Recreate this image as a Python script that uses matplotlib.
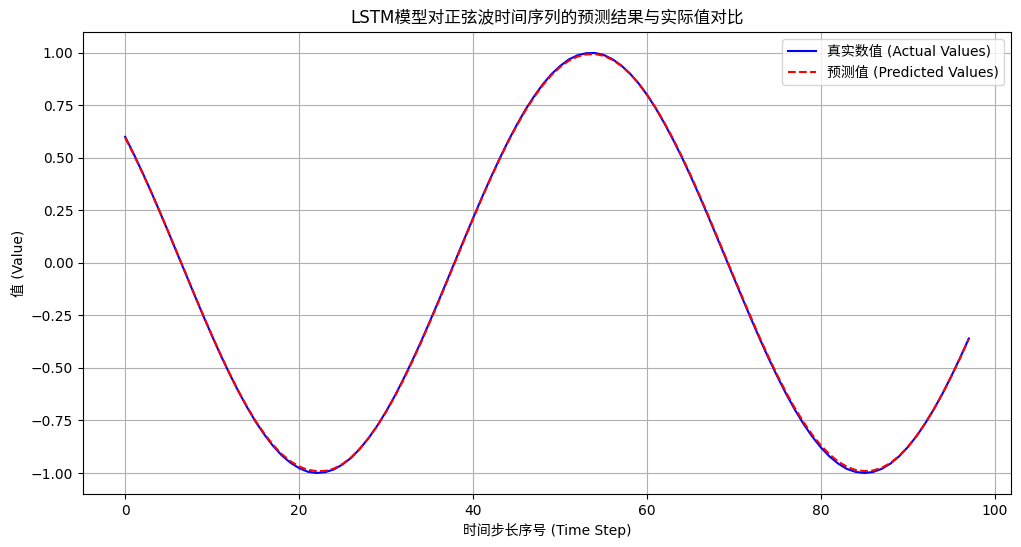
import numpy as np
import matplotlib
matplotlib.use("Agg")
import matplotlib.pyplot as plt

# 拉丁字母用 DejaVu Sans，中文退回到 Noto Sans CJK SC
plt.rcParams['font.family'] = ['DejaVu Sans', 'Noto Sans CJK SC']

# 测试集上的实际值和预测值
actual = [0.600, 0.517, 0.429, 0.337, 0.241, 0.143, 0.043,
          -0.056, -0.156, -0.254, -0.349, -0.441, -0.528, -0.610,
          -0.686, -0.756, -0.817, -0.871, -0.916, -0.951, -0.977, -0.994,
          -1.000, -0.996, -0.983, -0.959, -0.927, -0.884, -0.833, -0.774, -0.707,
          -0.633, -0.552, -0.466, -0.376, -0.281, -0.184, -0.085,
          0.015, 0.115, 0.213, 0.310, 0.403, 0.492, 0.577,
          0.655, 0.728, 0.792, 0.849, 0.898, 0.937, 0.968, 0.988,
          0.998, 0.999, 0.990, 0.970, 0.941, 0.903, 0.856, 0.800,
          0.736, 0.664, 0.586, 0.503, 0.414, 0.321, 0.225, 0.126, 0.027,
          -0.073, -0.172, -0.270, -0.365, -0.456, -0.542, -0.624,
          -0.699, -0.767, -0.827, -0.879, -0.922, -0.956, -0.981, -0.995,
          -1.000, -0.995, -0.980, -0.955, -0.920, -0.876, -0.824, -0.763,
          -0.695, -0.620, -0.538, -0.451, -0.360]

predicted = [0.596, 0.514, 0.427, 0.336, 0.241, 0.144, 0.045,
             -0.054, -0.154, -0.252, -0.347, -0.439, -0.526, -0.608,
             -0.684, -0.753, -0.813, -0.866, -0.910, -0.944, -0.969, -0.985,
             -0.991, -0.990, -0.979, -0.957, -0.925, -0.883, -0.833, -0.775, -0.709,
             -0.636, -0.556, -0.470, -0.380, -0.285, -0.188, -0.089,
             0.011, 0.111, 0.210, 0.307, 0.400, 0.489, 0.574,
             0.652, 0.724, 0.788, 0.845, 0.893, 0.932, 0.962, 0.982,
             0.992, 0.994, 0.986, 0.967, 0.939, 0.902, 0.856, 0.801,
             0.738, 0.667, 0.590, 0.507, 0.419, 0.326, 0.230, 0.131, 0.032,
             -0.068, -0.167, -0.264, -0.359, -0.450, -0.536, -0.617,
             -0.691, -0.758, -0.818, -0.869, -0.912, -0.946, -0.971, -0.986,
             -0.991, -0.988, -0.975, -0.952, -0.918, -0.875, -0.823, -0.762,
             -0.695, -0.620, -0.539, -0.453, -0.362]

steps = np.arange(len(actual))

fig = plt.figure(figsize=(10.21, 5.47), dpi=100)
ax = fig.add_axes([83 / 1021, 53 / 547, 928 / 1021, 462 / 547])

ax.plot(steps, actual, 'b-', label='真实数值 (Actual Values)')
ax.plot(steps, predicted, 'r--', label='预测值 (Predicted Values)')

ax.set_title('LSTM模型对正弦波时间序列的预测结果与实际值对比')
ax.set_xlabel('时间步长序号 (Time Step)')
ax.set_ylabel('值 (Value)')
ax.legend()
ax.grid(True)

fig.savefig('out.png', dpi=100)
